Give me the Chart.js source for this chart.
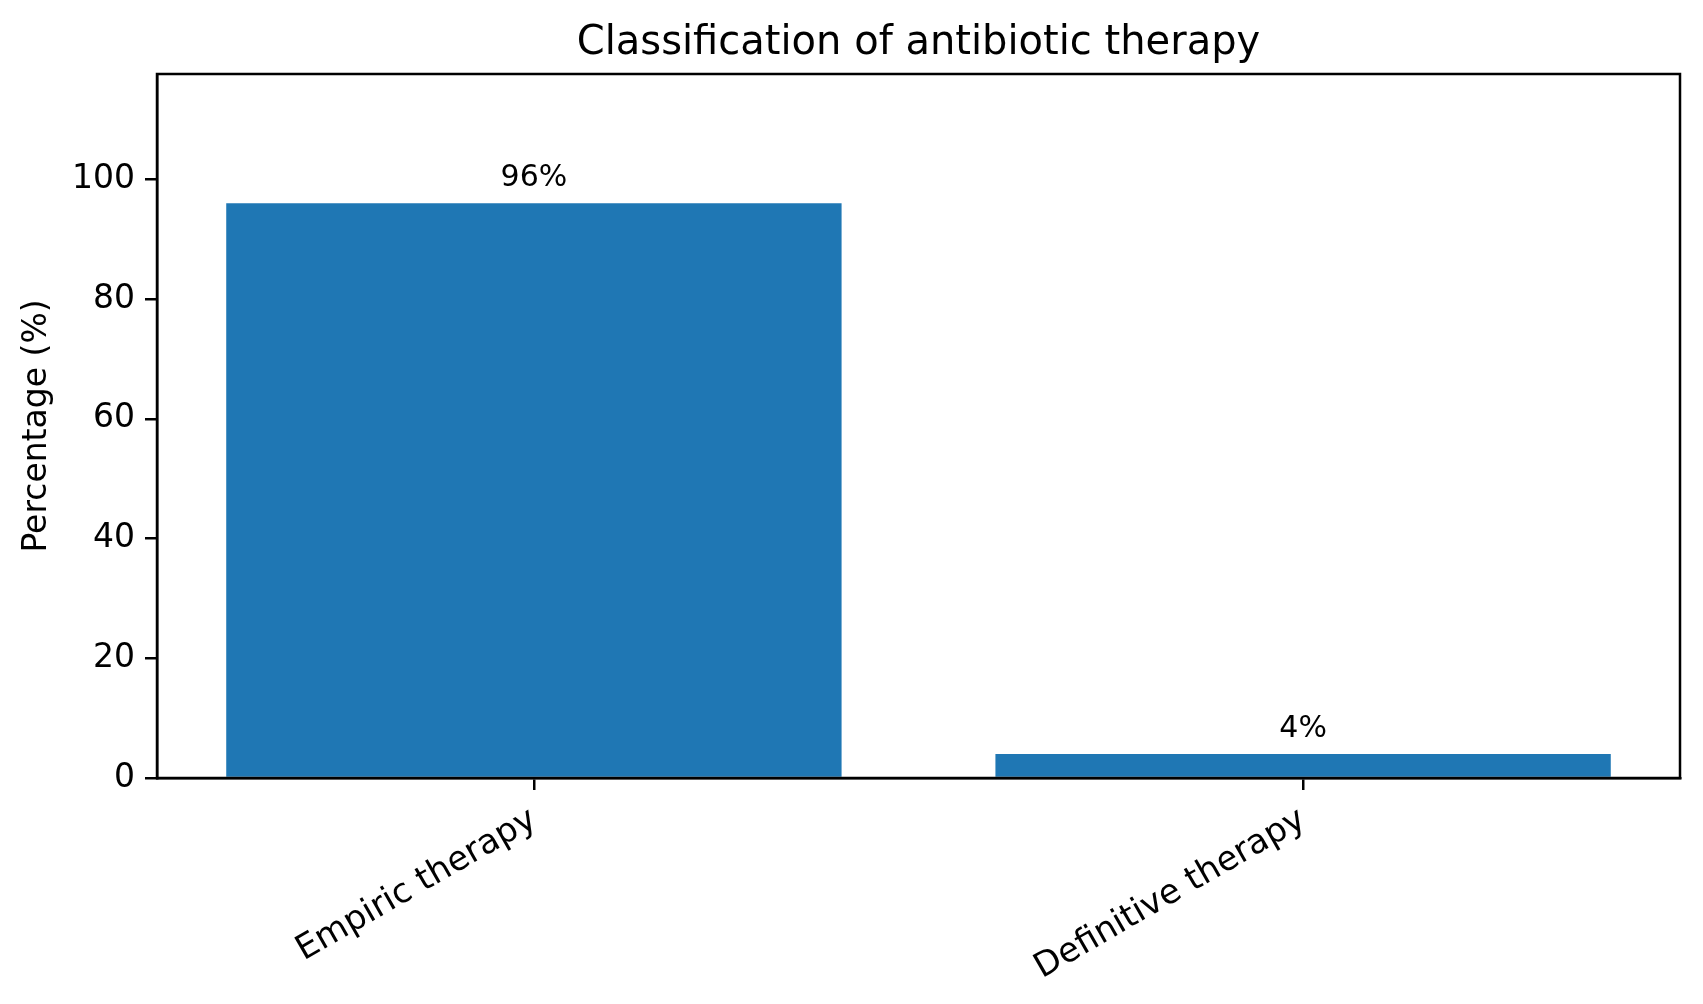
<!DOCTYPE html>
<html>
<head>
<meta charset="utf-8">
<script src="https://cdn.jsdelivr.net/npm/chart.js@4"></script>
<style>
  body { margin: 0; background: #fff; }
</style>
</head>
<body>
<canvas id="chart" width="1703" height="1004"></canvas>
<script>
// data
const categories = ["Empiric therapy", "Definitive therapy"];
const percentages = [96, 4];
const yTicks = [0, 20, 40, 60, 80, 100];
const yMax = 117.6;

const FONT = "'DejaVu Sans', sans-serif";

// value labels above each bar
const barLabels = {
  id: "barLabels",
  afterDatasetsDraw(chart) {
    const ctx = chart.ctx;
    const meta = chart.getDatasetMeta(0);
    ctx.save();
    ctx.font = "30px " + FONT;
    ctx.fillStyle = "#000";
    ctx.textAlign = "center";
    ctx.textBaseline = "bottom";
    meta.data.forEach((bar, i) => {
      ctx.fillText(percentages[i] + "%", bar.x, bar.y - 10);
    });
    ctx.restore();
  }
};

// full box round the plot, like matplotlib spines
const frame = {
  id: "frame",
  afterDraw(chart) {
    const a = chart.chartArea;
    const ctx = chart.ctx;
    ctx.save();
    ctx.strokeStyle = "#000";
    ctx.lineWidth = 2.5;
    ctx.strokeRect(a.left, a.top, a.right - a.left, a.bottom - a.top);
    ctx.restore();
  }
};

const chart = new Chart(document.getElementById("chart"), {
  type: "bar",
  data: {
    labels: categories,
    datasets: [{
      data: percentages,
      backgroundColor: "#1f77b4",
      borderWidth: 0,
      categoryPercentage: 1,
      barPercentage: 0.8
    }]
  },
  options: {
    responsive: false,
    animation: false,
    layout: { padding: { left: 0, right: 23, top: 0, bottom: 0 } },
    plugins: {
      legend: { display: false },
      tooltip: { enabled: false },
      title: {
        display: true,
        fullSize: false,
        text: "Classification of antibiotic therapy",
        color: "#000",
        font: { family: FONT, size: 40, weight: "normal" },
        padding: { top: 20, bottom: 6 }
      }
    },
    scales: {
      x: {
        offset: true,
        afterFit(scale) { scale.height = 226; },
        // matplotlib-like x margins: -0.49 .. 1.49 instead of -0.5 .. 1.5
        afterUpdate(scale) {
          scale._startValue = -0.49;
          scale._valueRange = categories.length - 1 + 0.98;
        },
        grid: {
          offset: false,
          drawOnChartArea: false,
          drawTicks: true,
          tickLength: 12,
          color: "#000",
          lineWidth: 2.5
        },
        border: { display: true, color: "#000", width: 2.5 },
        ticks: {
          color: "#000",
          font: { family: FONT, size: 34 },
          minRotation: 30,
          maxRotation: 30,
          autoSkip: false,
          padding: 10
        }
      },
      y: {
        min: 0,
        max: yMax,
        afterFit(scale) { scale.width = 157; },
        afterBuildTicks(scale) { scale.ticks = yTicks.map(v => ({ value: v })); },
        grid: {
          drawOnChartArea: false,
          drawTicks: true,
          tickLength: 12,
          color: "#000",
          lineWidth: 2.5
        },
        border: { display: true, color: "#000", width: 2.5 },
        ticks: {
          color: "#000",
          font: { family: FONT, size: 33 },
          padding: 10
        },
        title: {
          display: true,
          text: "Percentage (%)",
          color: "#000",
          font: { family: FONT, size: 33 },
          padding: { top: 18, bottom: 0 }
        }
      }
    }
  },
  plugins: [barLabels, frame]
});
</script>
</body>
</html>
